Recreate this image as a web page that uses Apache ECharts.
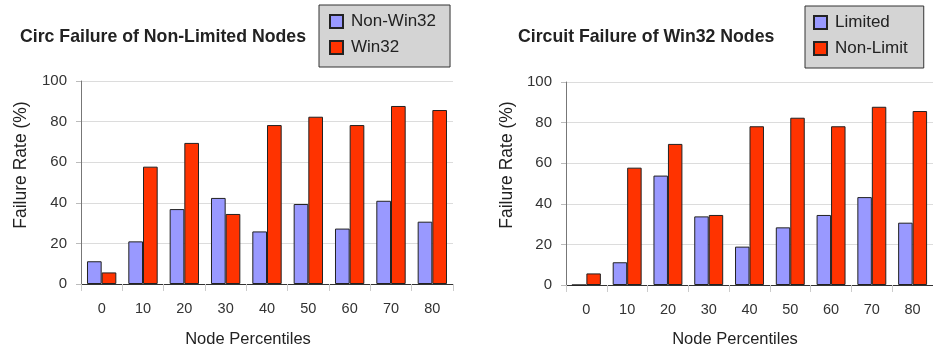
<!DOCTYPE html>
<html>
<head>
<meta charset="utf-8">
<script src="https://cdn.jsdelivr.net/npm/echarts@6/dist/echarts.min.js"></script>
<style>
html,body{margin:0;padding:0;background:#fff;}
#c{width:933px;height:351px;}
</style>
</head>
<body>
<div id="c"></div>
<script>
const categories = ['0','10','20','30','40','50','60','70','80'];
const nonWin32 = [11.2, 21.0, 36.9, 42.4, 25.9, 39.4, 27.3, 41.0, 30.7];
const win32 = [5.7, 57.8, 69.5, 34.5, 78.3, 82.4, 78.3, 87.7, 85.7];
const limited = [0, 11.2, 53.9, 33.8, 18.9, 28.4, 34.5, 43.3, 30.7];
const nonLimit = [5.7, 57.8, 69.5, 34.5, 78.2, 82.4, 78.2, 87.8, 85.7];
const yMin = 0, yMax = 100, yStep = 20;
const titleLeft = 'Circ Failure of Non-Limited Nodes';
const titleRight = 'Circuit Failure of Win32 Nodes';
const legendLeft = ['Non-Win32', 'Win32'];
const legendRight = ['Limited', 'Non-Limit'];
const xName = 'Node Percentiles';
const yName = 'Failure Rate (%)';

const FONT = '"Liberation Sans", Arial, sans-serif';
const BLUE = '#9999ff';
const RED = '#ff3300';

const chart = echarts.init(document.getElementById('c'));

function xAxisCfg(gi) {
  return {
    type: 'category', gridIndex: gi, data: categories,
    axisLine: {lineStyle: {color: '#333', width: 1}},
    axisTick: {show: true, length: 7, lineStyle: {color: '#ccc'}},
    axisLabel: {fontFamily: FONT, fontSize: 14.5, color: '#333', margin: 17}
  };
}
function yAxisCfg(gi) {
  return {
    type: 'value', gridIndex: gi, min: yMin, max: yMax, interval: yStep,
    axisLine: {show: true, lineStyle: {color: '#777', width: 1}},
    axisTick: {show: true, length: 5, lineStyle: {color: '#bbb'}},
    axisLabel: {fontFamily: FONT, fontSize: 15, color: '#333', margin: 14},
    splitLine: {show: true, lineStyle: {color: '#dcdcdc', width: 1}}
  };
}
function legendCfg(data, left, top, pad) {
  return {
    data: data, orient: 'vertical', left: left, top: top,
    icon: 'rect', itemWidth: 13, itemHeight: 13, itemGap: 9,
    padding: pad,
    backgroundColor: '#d4d4d4', borderColor: '#333', borderWidth: 1,
    textStyle: {fontFamily: FONT, fontSize: 17, color: '#222', lineHeight: 15, padding: [0, 0, 0, 3]}
  };
}
function barSeries(name, data, color, xi) {
  return {
    type: 'bar', name: name, data: data, xAxisIndex: xi, yAxisIndex: xi,
    barGap: '0%', barCategoryGap: '29%',
    itemStyle: {color: color, borderColor: '#222', borderWidth: 1},
    emphasis: {disabled: true}, animation: false
  };
}

chart.setOption({
  animation: false,
  title: [
    {text: titleLeft, left: 20, top: 28, padding: 0,
     textStyle: {fontFamily: FONT, fontSize: 17.7, fontWeight: 'bold', color: '#222', lineHeight: 18}},
    {text: titleRight, left: 518, top: 28, padding: 0,
     textStyle: {fontFamily: FONT, fontSize: 17.7, fontWeight: 'bold', color: '#222', lineHeight: 18}}
  ],
  legend: [
    legendCfg(legendLeft, 319, 5, [8, 14, 11, 10]),
    legendCfg(legendRight, 805, 6, [8, 16, 11, 8])
  ],
  grid: [
    {left: 81, top: 81, width: 372, height: 203, containLabel: false},
    {left: 566, top: 82, width: 375, height: 203, containLabel: false}
  ],
  xAxis: [xAxisCfg(0), xAxisCfg(1)],
  yAxis: [yAxisCfg(0), yAxisCfg(1)],
  series: [
    barSeries(legendLeft[0], nonWin32, BLUE, 0),
    barSeries(legendLeft[1], win32, RED, 0),
    barSeries(legendRight[0], limited, BLUE, 1),
    barSeries(legendRight[1], nonLimit, RED, 1)
  ],
  graphic: [
    {type: 'text', x: 248, y: 339, style: {text: xName, fontFamily: FONT, fontSize: 16.5, fill: '#222', align: 'center', verticalAlign: 'middle'}},
    {type: 'text', x: 735, y: 339, style: {text: xName, fontFamily: FONT, fontSize: 16.5, fill: '#222', align: 'center', verticalAlign: 'middle'}},
    {type: 'text', x: 21, y: 165, rotation: Math.PI / 2, style: {text: yName, fontFamily: FONT, fontSize: 17.5, fill: '#222', align: 'center', verticalAlign: 'middle'}},
    {type: 'text', x: 507, y: 165, rotation: Math.PI / 2, style: {text: yName, fontFamily: FONT, fontSize: 17.5, fill: '#222', align: 'center', verticalAlign: 'middle'}}
  ]
});
</script>
</body>
</html>
